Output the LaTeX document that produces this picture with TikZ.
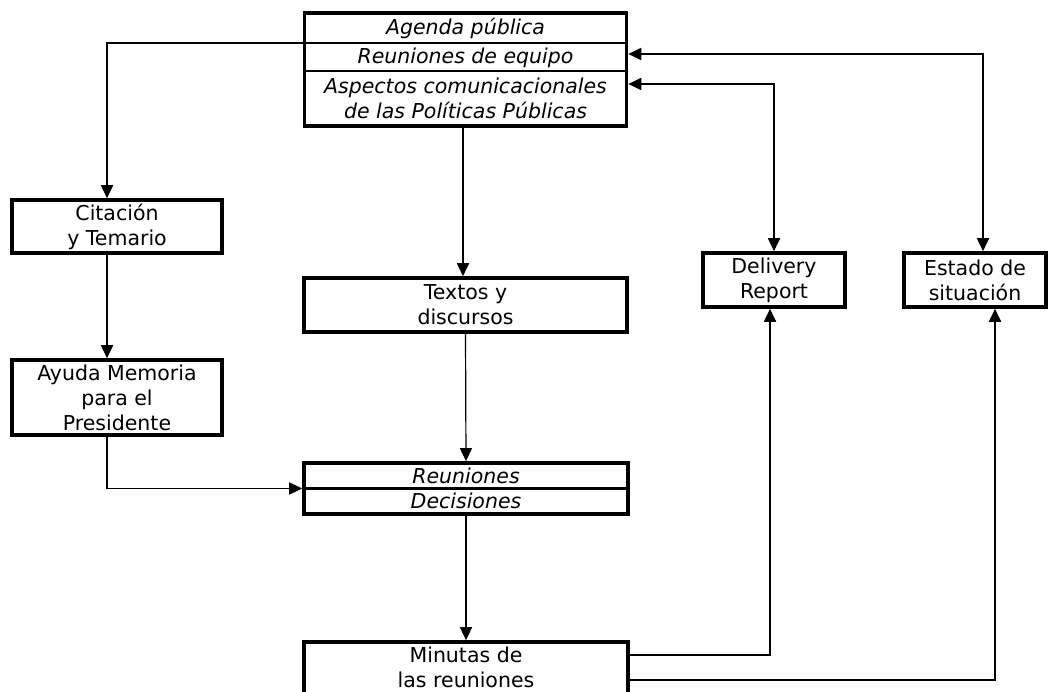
\documentclass[tikz,border=0pt]{standalone}
\usepackage{fontspec}
\setmainfont{DejaVu Sans}
\usetikzlibrary{arrows.meta}
\begin{document}
\begin{tikzpicture}[x=1pt,y=-1pt,
  box/.style={draw, line width=3.6pt, inner sep=0pt, align=center,
    font=\fontsize{20.5}{25}\selectfont},
  txt/.style={inner sep=0pt, align=center, font=\fontsize{20.5}{25}\selectfont\itshape},
  divider/.style={line width=2.2pt},
  conn/.style={line width=1.8pt},
  thin/.style={line width=1.2pt},
  tip/.style={-{Triangle[length=13pt,width=12pt]}},
  tips/.style={{Triangle[length=13pt,width=12pt]}-{Triangle[length=13pt,width=12pt]}}
]
\useasboundingbox (0,0) rectangle (1049,692);
\fill[white] (0,0) rectangle (1049,692);

% boxes
\node[box, minimum width=322pt, minimum height=113pt] (top) at (465.5,69.5) {};
\node[txt] (tA) at (465.5,28) {Agenda pública};
\node[txt] (tB) at (465.5,57.5) {Reuniones de equipo};
\node[txt] (tC) at (465.5,98.5) {Aspectos comunicacionales\\de las Políticas Públicas};
\draw[divider] ([yshift=26.5pt]top.west) -- ([yshift=26.5pt]top.east);
\draw[divider] ([yshift=-1.5pt]top.west) -- ([yshift=-1.5pt]top.east);

\node[box, minimum width=210pt, minimum height=53pt] (cit) at (117,226.5) {Citación\\y Temario};
\node[box, minimum width=210pt, minimum height=75pt] (ayu) at (117,397.5) {Ayuda Memoria\\para el\\Presidente};
\node[box, minimum width=323pt, minimum height=54pt] (tex) at (465.5,305) {Textos y\\discursos};
\node[box, minimum width=324pt, minimum height=51pt] (reu) at (466,488.5) {};
\node[txt] (rA) at (466,475.5) {Reuniones};
\node[txt] (rB) at (466,501) {Decisiones};
\draw[divider] (reu.west) -- (reu.east);
\node[box, minimum width=324pt, minimum height=56pt] (min) at (466,670) {};
\node[txt, font=\fontsize{20.5}{25}\selectfont] (mA) at (466,667.5) {Minutas de\\las reuniones};
\node[box, minimum width=142pt, minimum height=54pt] (del) at (774,280) {Delivery\\Report};
\node[box, minimum width=142pt, minimum height=54pt] (est) at (975,280) {Estado de\\situación};

% connectors
\draw[conn,tip] ([yshift=26.5pt]top.west) -| ([xshift=-10pt]cit.north);
\draw[conn,tip] ([xshift=-10pt]cit.south) -- ([xshift=-10pt]ayu.north);
\draw[thin,tip] ([xshift=-10pt]ayu.south) |- (reu.west);
\draw[conn,tip] ([xshift=-2.5pt]top.south) -- ([xshift=-2.5pt]tex.north);
\draw[thin,tip] (tex.south) -- (reu.north);
\draw[thin,tip] (reu.south) -- (min.north);
\draw[conn,tips] ([yshift=15.5pt]top.east) -| ([xshift=8pt]est.north);
\draw[conn,tips] ([yshift=-14.5pt]top.east) -| (del.north);
\draw[conn,tip] ([yshift=15pt]min.east) -| ([xshift=-4pt]del.south);
\draw[conn,tip] ([yshift=-10pt]min.east) -| ([xshift=20pt]est.south);
\end{tikzpicture}
\end{document}
